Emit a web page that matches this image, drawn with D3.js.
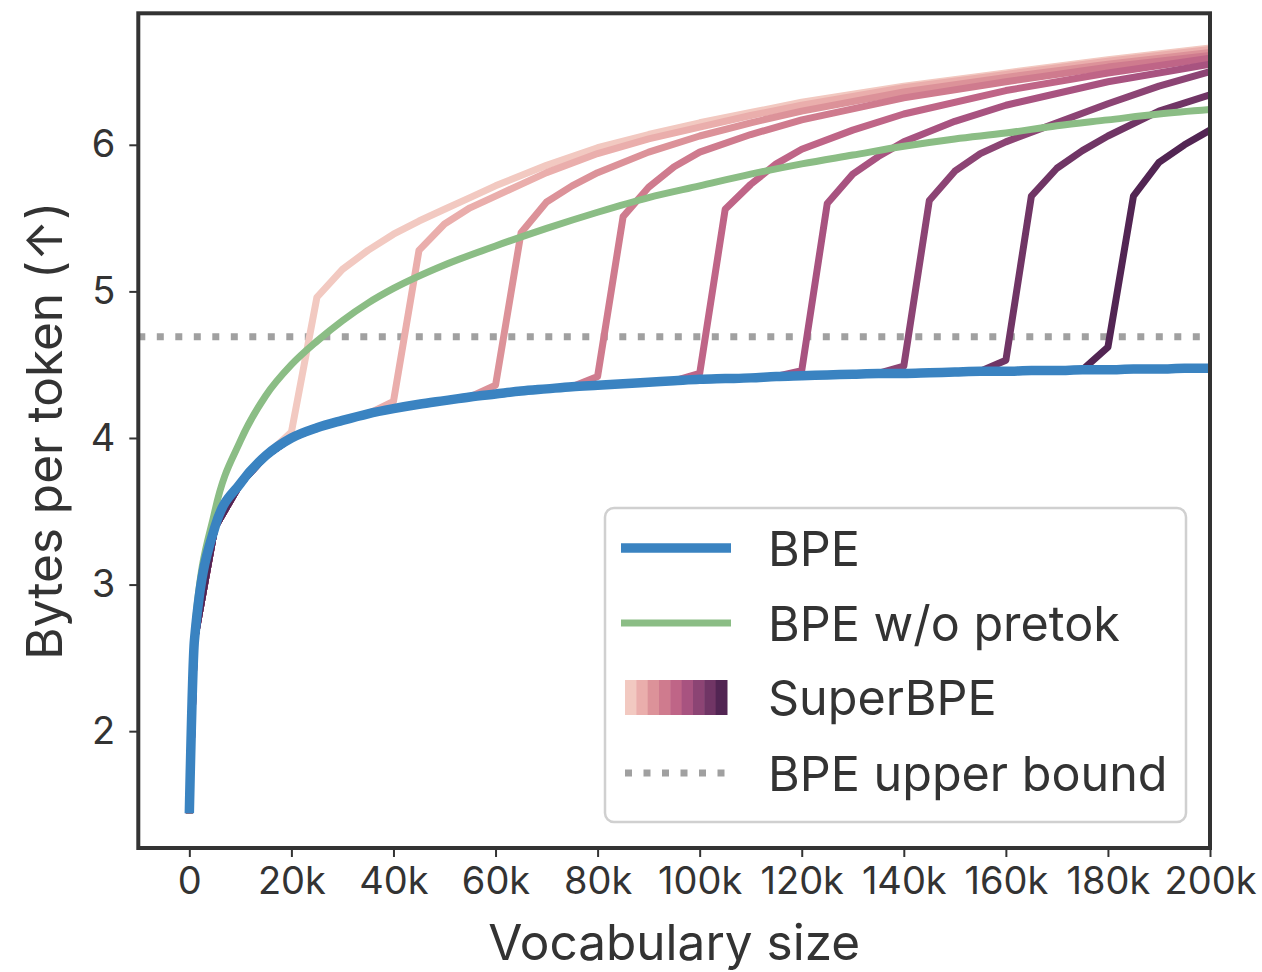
<!DOCTYPE html>
<html>
<head>
<meta charset="utf-8">
<script src="https://cdn.jsdelivr.net/npm/d3@7"></script>
<style>
  body { margin: 0; background: #fff; }
  text { font-family: Inter, "Noto Sans", sans-serif; fill: #333; }
</style>
</head>
<body>
<svg id="chart" width="1262" height="972"></svg>
<script>
// ticks
const xTickVals = [0, 20000, 40000, 60000, 80000, 100000, 120000, 140000, 160000, 180000, 200000];
const xTickLabels = ["0", "20k", "40k", "60k", "80k", "100k", "120k", "140k", "160k", "180k", "200k"];
const yTickVals = [2, 3, 4, 5, 6];

// BPE
const bpeX = [0, 1000, 5000, 10000, 15000, 20000, 25000, 30000, 35000, 40000, 45000, 50000, 55000, 60000,
  65000, 70000, 75000, 80000, 85000, 90000, 95000, 100000, 105000, 110000, 115000, 120000, 125000, 130000,
  135000, 140000, 145000, 150000, 155000, 160000, 165000, 170000, 175000, 180000, 185000, 190000, 195000, 200000];
const bpeY = [1.44, 2.62, 3.39, 3.69, 3.88, 4.00, 4.07, 4.12, 4.165, 4.20, 4.23, 4.255, 4.28, 4.30,
  4.32, 4.335, 4.35, 4.36, 4.37, 4.38, 4.39, 4.40, 4.405, 4.41, 4.42, 4.425, 4.43, 4.435,
  4.44, 4.44, 4.445, 4.45, 4.455, 4.455, 4.46, 4.46, 4.465, 4.465, 4.47, 4.47, 4.475, 4.475];

// BPE w/o pretokenization
const noPretokX = [0, 1000, 5000, 10000, 15000, 20000, 25000, 30000, 35000, 40000, 50000, 60000, 70000, 80000,
  90000, 100000, 110000, 120000, 130000, 140000, 150000, 160000, 170000, 180000, 190000, 200000];
const noPretokY = [1.44, 2.66, 3.50, 3.98, 4.29, 4.50, 4.66, 4.80, 4.92, 5.02, 5.18, 5.31, 5.43, 5.54,
  5.64, 5.72, 5.80, 5.87, 5.93, 5.99, 6.04, 6.08, 6.13, 6.17, 6.21, 6.24];

// SuperBPE, one run per transition point (follows BPE before it)
const superBpe20k = [[20000, 4.04], [25000, 4.96], [30000, 5.15], [35000, 5.28], [40000, 5.39], [45000, 5.48],
  [50000, 5.56], [55000, 5.64], [60000, 5.72], [70000, 5.86], [80000, 5.98], [90000, 6.07], [100000, 6.15],
  [110000, 6.22], [120000, 6.29], [140000, 6.40], [160000, 6.49], [180000, 6.58], [200000, 6.66]];
const superBpe40k = [[40000, 4.25], [45000, 5.28], [50000, 5.46], [55000, 5.57], [60000, 5.65], [65000, 5.73],
  [70000, 5.81], [80000, 5.94], [90000, 6.04], [100000, 6.12], [110000, 6.20], [120000, 6.27], [140000, 6.39],
  [160000, 6.48], [180000, 6.57], [200000, 6.65]];
const superBpe60k = [[60000, 4.36], [65000, 5.40], [70000, 5.61], [75000, 5.72], [80000, 5.81], [90000, 5.95],
  [100000, 6.06], [110000, 6.15], [120000, 6.23], [140000, 6.36], [160000, 6.46], [180000, 6.55], [200000, 6.63]];
const superBpe80k = [[80000, 4.42], [85000, 5.51], [90000, 5.71], [95000, 5.85], [100000, 5.95], [110000, 6.07],
  [120000, 6.17], [140000, 6.32], [160000, 6.43], [180000, 6.53], [200000, 6.61]];
const superBpe100k = [[100000, 4.44], [105000, 5.56], [110000, 5.73], [115000, 5.87], [120000, 5.97], [130000, 6.10],
  [140000, 6.21], [160000, 6.37], [180000, 6.49], [200000, 6.59]];
const superBpe120k = [[120000, 4.46], [125000, 5.60], [130000, 5.80], [135000, 5.92], [140000, 6.02], [150000, 6.16],
  [160000, 6.27], [180000, 6.43], [200000, 6.55]];
const superBpe140k = [[140000, 4.49], [145000, 5.62], [150000, 5.82], [155000, 5.94], [160000, 6.02], [170000, 6.15],
  [180000, 6.28], [190000, 6.40], [200000, 6.50]];
const superBpe160k = [[160000, 4.53], [165000, 5.65], [170000, 5.84], [175000, 5.96], [180000, 6.06], [190000, 6.23],
  [200000, 6.34]];
const superBpe180k = [[180000, 4.62], [185000, 5.65], [190000, 5.88], [195000, 6.00], [200000, 6.10]];

const upperBound = 4.69;

const legendLabels = ["BPE", "BPE w/o pretok", "SuperBPE", "BPE upper bound"];

// ---- drawing ----
const superRuns = [superBpe20k, superBpe40k, superBpe60k, superBpe80k, superBpe100k,
  superBpe120k, superBpe140k, superBpe160k, superBpe180k];
const superColors = ["#f2c9c1", "#eaaeac", "#dc9299", "#cf7b8e", "#bf6587", "#a85380", "#8c4474", "#703565", "#522553"];
const blue = "#3a83c1";
const green = "#8bbd85";
const gray = "#a0a0a0";

const svg = d3.select("#chart");
const pLeft = 138.3, pRight = 1210, pTop = 13.3, pBottom = 848;

const x = d3.scaleLinear().domain([-10000, 200000]).range([pLeft, pRight]);
const y = d3.scaleLinear().domain([1.203, 6.897]).range([pBottom, pTop]);

const line = d3.line().x(d => x(d[0])).y(d => y(d[1]));
const smoothLine = d3.line().x(d => x(d[0])).y(d => y(d[1])).curve(d3.curveMonotoneX);
const bpe = bpeX.map((v, i) => [v, bpeY[i]]);
const noPretok = noPretokX.map((v, i) => [v, noPretokY[i]]);

svg.append("clipPath").attr("id", "clip")
  .append("rect").attr("x", pLeft).attr("y", pTop).attr("width", pRight - pLeft).attr("height", pBottom - pTop);
const lines = svg.append("g").attr("clip-path", "url(#clip)");

// upper bound dotted line
lines.append("line")
  .attr("x1", pLeft).attr("x2", pRight)
  .attr("y1", y(upperBound)).attr("y2", y(upperBound))
  .attr("stroke", gray).attr("stroke-width", 7)
  .attr("stroke-dasharray", "7 11.5");

superRuns.forEach((run, i) => {
  const t = run[0][0];
  const pts = bpe.filter(d => d[0] < t).concat(run);
  lines.append("path").datum(pts)
    .attr("d", line)
    .attr("fill", "none")
    .attr("stroke", superColors[i])
    .attr("stroke-width", 7)
    .attr("stroke-linejoin", "round");
});

lines.append("path").datum(noPretok)
  .attr("d", smoothLine).attr("fill", "none")
  .attr("stroke", green).attr("stroke-width", 7).attr("stroke-linejoin", "round");

lines.append("path").datum(bpe)
  .attr("d", smoothLine).attr("fill", "none")
  .attr("stroke", blue).attr("stroke-width", 9.5).attr("stroke-linejoin", "round");

// axes
const xAxis = d3.axisBottom(x).tickValues(xTickVals).tickFormat((d, i) => xTickLabels[i]).tickSize(9).tickPadding(10);
const yAxis = d3.axisLeft(y).tickValues(yTickVals).tickFormat(d3.format("d")).tickSize(9).tickPadding(14);

const gx = svg.append("g").attr("transform", `translate(0, ${pBottom})`).call(xAxis);
const gy = svg.append("g").attr("transform", `translate(${pLeft}, 0)`).call(yAxis);
[gx, gy].forEach(g => {
  g.select(".domain").remove();
  g.selectAll(".tick line").attr("stroke", "#333").attr("stroke-width", 2);
  g.selectAll(".tick text").attr("font-size", 38).attr("fill", "#333")
    .style("font-family", "Inter, 'Noto Sans', sans-serif");
});

// frame
svg.append("rect")
  .attr("x", pLeft).attr("y", pTop).attr("width", pRight - pLeft).attr("height", pBottom - pTop)
  .attr("fill", "none").attr("stroke", "#333").attr("stroke-width", 4);

// axis labels
svg.append("text")
  .attr("x", (pLeft + pRight) / 2).attr("y", 960)
  .attr("text-anchor", "middle").attr("font-size", 49.5)
  .text("Vocabulary size");

svg.append("text")
  .attr("transform", `translate(62, ${(pTop + pBottom) / 2}) rotate(-90)`)
  .attr("text-anchor", "middle").attr("font-size", 49.5)
  .text("Bytes per token (↑)");

// legend
const lg = svg.append("g");
lg.append("rect")
  .attr("x", 605).attr("y", 508).attr("width", 581).attr("height", 314).attr("rx", 9)
  .attr("fill", "#fff").attr("fill-opacity", 0.85)
  .attr("stroke", "#d0d0d0").attr("stroke-width", 2.5);

const rowY = [548, 623, 697, 773];
lg.append("line").attr("x1", 621).attr("x2", 731).attr("y1", rowY[0]).attr("y2", rowY[0])
  .attr("stroke", blue).attr("stroke-width", 9.5);
lg.append("line").attr("x1", 621).attr("x2", 731).attr("y1", rowY[1]).attr("y2", rowY[1])
  .attr("stroke", green).attr("stroke-width", 7);
const bandW = (727 - 625) / superColors.length;
lg.selectAll("rect.band").data(superColors).enter().append("rect")
  .attr("class", "band")
  .attr("x", (d, i) => 625 + i * bandW).attr("y", rowY[2] - 17)
  .attr("width", bandW + 0.5).attr("height", 35)
  .attr("fill", d => d);
lg.append("line").attr("x1", 625).attr("x2", 731).attr("y1", rowY[3]).attr("y2", rowY[3])
  .attr("stroke", gray).attr("stroke-width", 7).attr("stroke-dasharray", "7 11.5");

lg.selectAll("text.lab").data(legendLabels).enter().append("text")
  .attr("class", "lab")
  .attr("x", 768).attr("y", (d, i) => rowY[i] + 17.5)
  .attr("font-size", 48.5)
  .text(d => d);
</script>
</body>
</html>
